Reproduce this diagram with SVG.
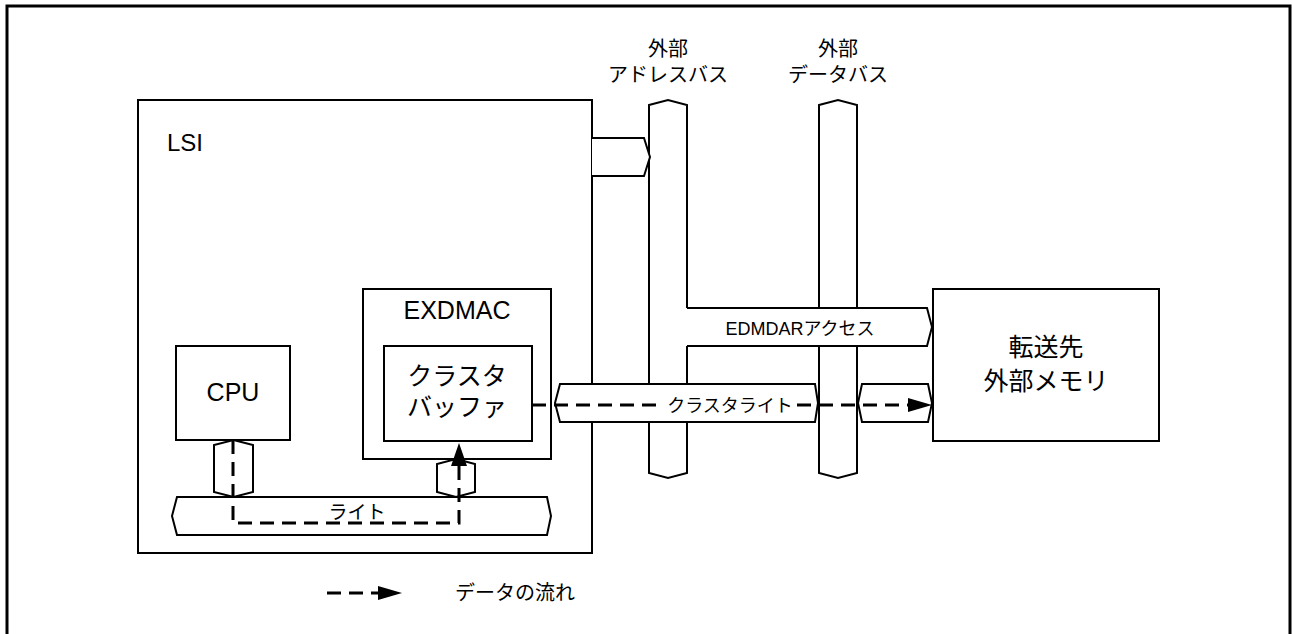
<svg xmlns="http://www.w3.org/2000/svg" width="1292" height="634" viewBox="0 0 1292 634">
<style>
.box{fill:#fff;stroke:#000;stroke-width:2}
.shape{fill:#fff;stroke:#000;stroke-width:2;stroke-linejoin:miter}
.flow{fill:none;stroke:#000;stroke-width:3;stroke-dasharray:14 8}
.head{fill:#000;stroke:none}
text{font-family:"Liberation Sans","Noto Sans CJK JP",sans-serif;fill:#000}
.c{text-anchor:middle}
</style>
<rect width="1292" height="634" fill="#fff"/>
<path d="M7,640 V6 H1290 V640" fill="none" stroke="#000" stroke-width="3"/>

<g id="lsi">
<rect class="box" x="138" y="100" width="454" height="453"/>
<text x="167" y="151" font-size="24">LSI</text>
</g>

<g id="address-bus">
<path class="shape" d="M649,105 L668,100 L687,105 V473 L668,478 L649,473 Z"/>
<text class="c" x="668" y="56" font-size="20">外部</text>
<text class="c" x="668" y="82" font-size="20">アドレスバス</text>
</g>

<g id="data-bus">
<path class="shape" d="M819,105 L838,100 L857,105 V473 L838,478 L819,473 Z"/>
<text class="c" x="838" y="56" font-size="20">外部</text>
<text class="c" x="838" y="82" font-size="20">データバス</text>
</g>

<g id="exdmac">
<rect class="box" x="363" y="289" width="188" height="170"/>
<text class="c" x="457" y="319" font-size="25">EXDMAC</text>
</g>

<g id="cluster-buffer">
<rect class="box" x="384" y="346" width="148" height="95"/>
<text class="c" x="457" y="385" font-size="25">クラスタ</text>
<text class="c" x="457" y="416" font-size="25">バッファ</text>
</g>

<g id="cpu">
<rect class="box" x="176" y="346" width="114" height="94"/>
<text class="c" x="233" y="401" font-size="25">CPU</text>
</g>

<g id="memory">
<rect class="box" x="933" y="289" width="226" height="152"/>
<text class="c" x="1046" y="356" font-size="25">転送先</text>
<text class="c" x="1046" y="390" font-size="25">外部メモリ</text>
</g>

<g id="internal-bus">
<path class="shape" d="M172,516 L177,497 H547 L551,516 L547,535 H177 Z"/>
<text class="c" x="357" y="519" font-size="19">ライト</text>
</g>

<g id="connectors">
<path class="shape" d="M592,138 H644 L650,157 L644,176 H592"/>
<path d="M685.5,308 H927 L932,327 L927,346 H685.5 Z" fill="#fff" stroke="none"/>
<path class="shape" fill="none" d="M687,308 H927 L932,327 L927,346 H687" style="fill:none"/>
<text class="c" x="800" y="335" font-size="18">EDMDARアクセス</text>
<path class="shape" d="M555,403 L560,384 H815 L818,403 L815,422 H560 Z"/>
<path class="shape" d="M858,403 L862,384 H928 L932,403 L928,422 H862 Z"/>
<path class="shape" d="M233.5,440 L253,445 V492 L233.5,497 L214,492 V445 Z"/>
<path class="shape" d="M456,459 L475,464 V492 L456,497 L437,492 V464 Z"/>
<path class="flow" d="M532,405 H664"/>
<path class="flow" d="M797,405 H910"/>
<polygon class="head" points="908,398 932,405 908,412"/>
<text class="c" x="730" y="412" font-size="18">クラスタライト</text>
<path class="flow" d="M233,440 V523 H459 V466"/>
<polygon class="head" points="451,466 467,466 459,443"/>
</g>

<g id="legend">
<path class="flow" d="M327,593 H380"/>
<polygon class="head" points="378,586 402,593 378,600"/>
<text x="455" y="600" font-size="20">データの流れ</text>
</g>
</svg>
